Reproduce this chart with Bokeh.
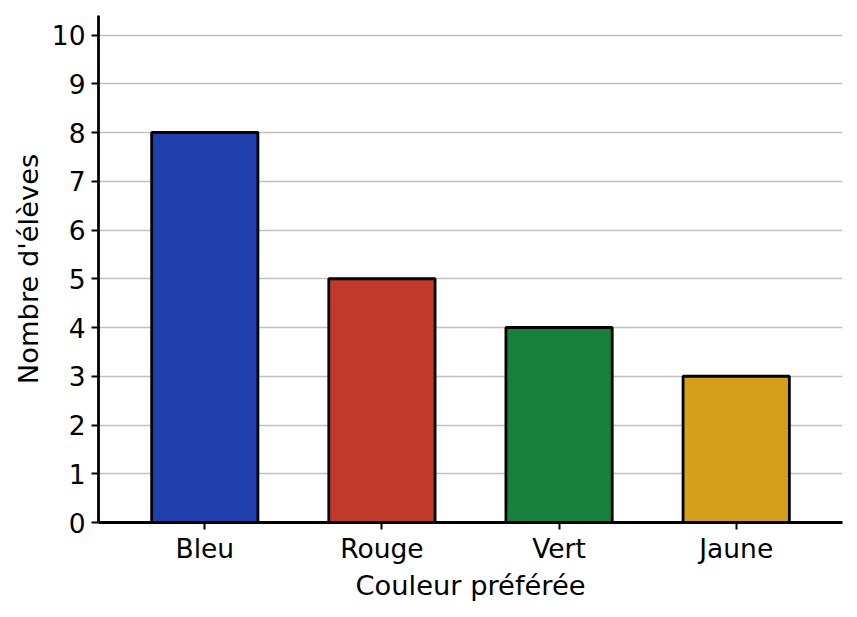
from bokeh.plotting import figure
from bokeh.models import FactorRange, Range1d, FixedTicker
from bokeh.embed import file_html
from bokeh.resources import INLINE

categories = ["Bleu", "Rouge", "Vert", "Jaune"]
counts = [8, 5, 4, 3]
colors = ["#1f40ad", "#c0392b", "#17803d", "#d4a01b"]
y_ticks = [0, 1, 2, 3, 4, 5, 6, 7, 8, 9, 10]

FONT = "DejaVu Sans"
FS = "26.5px"
FS_LABEL = "27.3px"

p = figure(
    x_range=FactorRange(factors=categories, range_padding=0.1, range_padding_units="absolute"),
    y_range=Range1d(0, 10.4),
    width=849, height=609,
    output_backend="svg", toolbar_location=None,
    min_border_left=98, min_border_top=15, min_border_right=7, min_border_bottom=87,
)
p.vbar(x=categories, top=counts, width=0.6, fill_color=colors,
       line_color="black", line_width=2.8)

p.outline_line_color = None
p.xgrid.grid_line_color = None
p.ygrid.grid_line_color = "#c0c0c0"
p.ygrid.grid_line_width = 1.6
p.yaxis.ticker = FixedTicker(ticks=y_ticks)

for ax in (p.xaxis[0], p.yaxis[0]):
    ax.axis_line_width = 2.8
    ax.axis_line_color = "black"
    ax.major_tick_line_width = 2
    ax.major_tick_line_color = "black"
    ax.major_tick_out = 7
    ax.major_tick_in = 0
    ax.minor_tick_line_color = None
    ax.major_label_text_font = FONT
    ax.major_label_text_font_size = FS
    ax.major_label_text_color = "black"
    ax.axis_label_text_font = FONT
    ax.axis_label_text_font_size = FS_LABEL
    ax.axis_label_text_font_style = "normal"
    ax.axis_label_text_color = "black"

p.xaxis.axis_label = "Couleur préférée"
p.yaxis.axis_label = "Nombre d'élèves"
p.xaxis.major_label_standoff = 3
p.yaxis.major_label_standoff = 6
p.xaxis.axis_label_standoff = 3
p.yaxis.axis_label_standoff = 5

open("out.html", "w").write(file_html(p, INLINE))
